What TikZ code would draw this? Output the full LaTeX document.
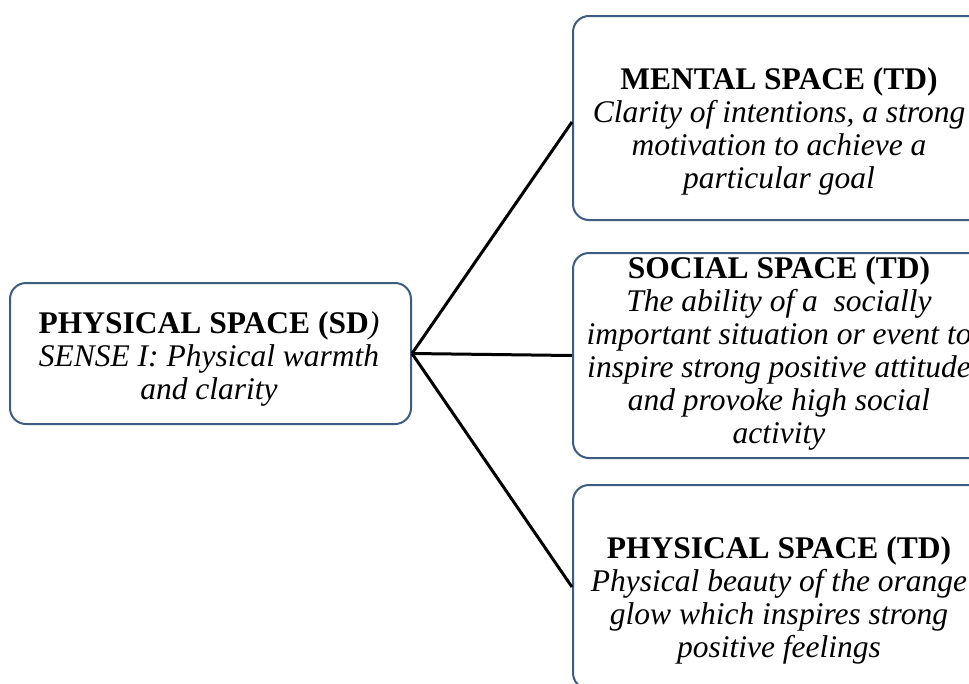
\documentclass[tikz,border=0pt]{standalone}
\usepackage{fontspec}
\setmainfont{Liberation Serif}
\definecolor{boxblue}{RGB}{62,92,128}
\begin{document}
\begin{tikzpicture}[x=1pt,y=-1pt,
  box/.style={draw=boxblue, line width=2pt, rounded corners=16pt, fill=white,
    inner sep=0pt, anchor=center},
  txt/.style={align=center, inner sep=0pt, font=\fontsize{31.5}{33}\selectfont},
  conn/.style={draw=black, line width=3pt}]
\useasboundingbox (0,0) rectangle (969,683);
\clip (0,0) rectangle (969,683);
\fill[white] (0,0) rectangle (969,683);
\node[box, minimum width=401pt, minimum height=141pt] (L) at (210.5,353.5) {};
\node[box, minimum width=412pt, minimum height=204pt] (T) at (779,118) {};
\node[box, minimum width=412pt, minimum height=205pt] (M) at (779,355.5) {};
\node[box, minimum width=412pt, minimum height=204pt] (B) at (779,587) {};
\node[txt] (Lt) at (209,359) {\textbf{PHYSICAL SPACE (SD}\textit{)}\\\textit{SENSE I: Physical warmth}\\\textit{and clarity}};
\node[txt] (Tt) at (779,131) {\textbf{MENTAL SPACE (TD)}\\\textit{Clarity of intentions, a strong}\\\textit{motivation to achieve a}\\\textit{particular goal}};
\node[txt] (Mt) at (779,353) {\textbf{SOCIAL SPACE (TD)}\\\textit{The ability of a~ socially}\\\textit{important situation or event to}\\\textit{inspire strong positive attitude}\\\textit{and provoke high social}\\\textit{activity}};
\node[txt] (Bt) at (779,600) {\textbf{PHYSICAL SPACE (TD)}\\\textit{Physical beauty of the orange}\\\textit{glow which inspires strong}\\\textit{positive feelings}};
\draw[conn] (L.east) -- ([yshift=-4pt]T.west);
\draw[conn] (L.east) -- (M.west);
\draw[conn] (L.east) -- (B.west);
\end{tikzpicture}
\end{document}
